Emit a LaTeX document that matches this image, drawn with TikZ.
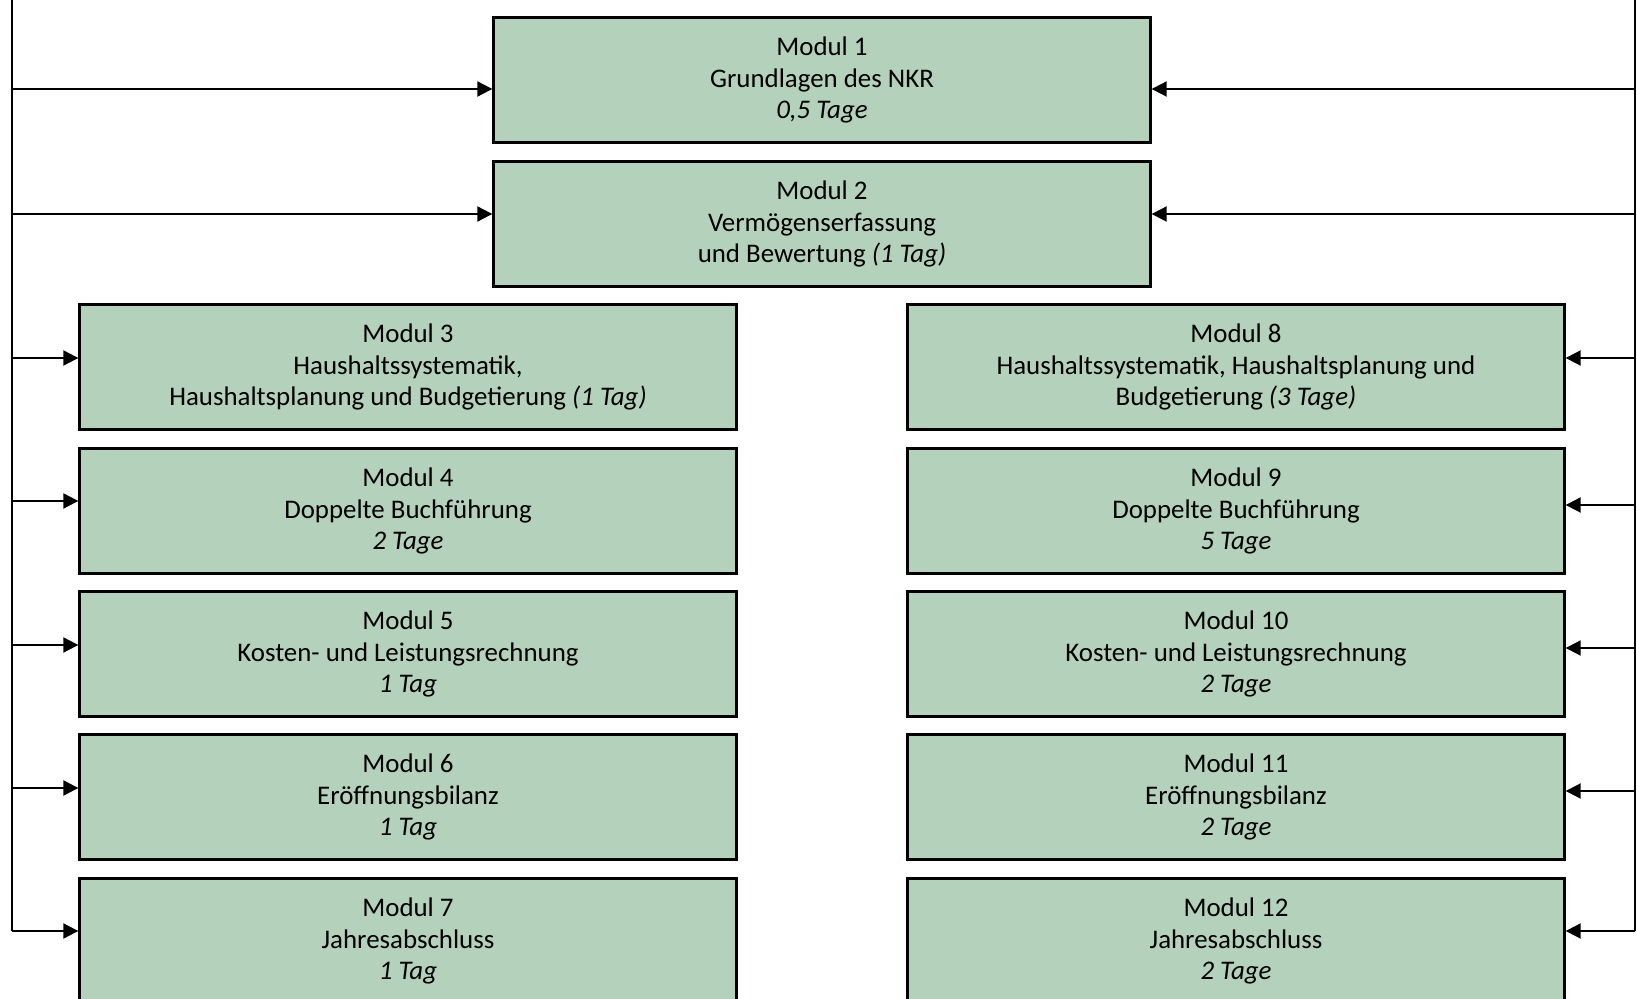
\documentclass[tikz,border=0pt]{standalone}
\usepackage{fontspec}
\setmainfont{Carlito}
\usetikzlibrary{arrows.meta}
\definecolor{modgreen}{RGB}{179,209,187}

\begin{document}
\begin{tikzpicture}[x=0.02cm, y=-0.02cm,
    modul/.style={draw, line width=1.4pt, fill=modgreen, align=center,
        minimum width=13.14cm, minimum height=2.5cm, inner sep=0pt,
        font=\fontsize{15.3}{17.7}\selectfont},
    arr/.style={-{Triangle[length=0.3cm, width=0.3cm]}, line width=1.1pt}]
    \useasboundingbox (0,0) rectangle (1637,999);

    % Draw the modules
    \node[modul] (m1) at (822,80) {Modul 1\\Grundlagen des NKR\\\textit{0,5 Tage}};
    \node[modul] (m2) at (822,224) {Modul 2\\Vermögenserfassung\\und Bewertung \textit{(1 Tag)}};

    \node[modul] (m3) at (408,367) {Modul 3\\Haushaltssystematik,\\Haushaltsplanung und Budgetierung \textit{(1 Tag)}};
    \node[modul] (m4) at (408,511) {Modul 4\\Doppelte Buchführung\\\textit{2 Tage}};
    \node[modul] (m5) at (408,654) {Modul 5\\Kosten- und Leistungsrechnung\\\textit{1 Tag}};
    \node[modul] (m6) at (408,797) {Modul 6\\Eröffnungsbilanz\\\textit{1 Tag}};
    \node[modul] (m7) at (408,941) {Modul 7\\Jahresabschluss\\\textit{1 Tag}};

    \node[modul] (m8) at (1236,367) {Modul 8\\Haushaltssystematik, Haushaltsplanung und\\Budgetierung \textit{(3 Tage)}};
    \node[modul] (m9) at (1236,511) {Modul 9\\Doppelte Buchführung\\\textit{5 Tage}};
    \node[modul] (m10) at (1236,654) {Modul 10\\Kosten- und Leistungsrechnung\\\textit{2 Tage}};
    \node[modul] (m11) at (1236,797) {Modul 11\\Eröffnungsbilanz\\\textit{2 Tage}};
    \node[modul] (m12) at (1236,941) {Modul 12\\Jahresabschluss\\\textit{2 Tage}};

    % Left bus
    \coordinate (ltop) at (12,0);
    \coordinate (l1) at (12,89);
    \coordinate (l2) at (12,214);
    \coordinate (l3) at (12,358);
    \coordinate (l4) at (12,501);
    \coordinate (l5) at (12,645);
    \coordinate (l6) at (12,788);
    \coordinate (l7) at (12,931);
    \draw[line width=1.1pt] (ltop) -- (l7);
    \draw[arr] (l1) -- (l1 -| m1.west);
    \draw[arr] (l2) -- (l2 -| m2.west);
    \draw[arr] (l3) -- (l3 -| m3.west);
    \draw[arr] (l4) -- (l4 -| m4.west);
    \draw[arr] (l5) -- (l5 -| m5.west);
    \draw[arr] (l6) -- (l6 -| m6.west);
    \draw[arr] (l7) -- (l7 -| m7.west);

    % Right bus
    \coordinate (rtop) at (1635,0);
    \coordinate (r1) at (1635,89);
    \coordinate (r2) at (1635,214);
    \coordinate (r3) at (1635,358);
    \coordinate (r4) at (1635,505);
    \coordinate (r5) at (1635,648);
    \coordinate (r6) at (1635,791);
    \coordinate (r7) at (1635,931);
    \draw[line width=1.1pt] (rtop) -- (r7);
    \draw[arr] (r1) -- (r1 -| m1.east);
    \draw[arr] (r2) -- (r2 -| m2.east);
    \draw[arr] (r3) -- (r3 -| m8.east);
    \draw[arr] (r4) -- (r4 -| m9.east);
    \draw[arr] (r5) -- (r5 -| m10.east);
    \draw[arr] (r6) -- (r6 -| m11.east);
    \draw[arr] (r7) -- (r7 -| m12.east);
\end{tikzpicture}
\end{document}
